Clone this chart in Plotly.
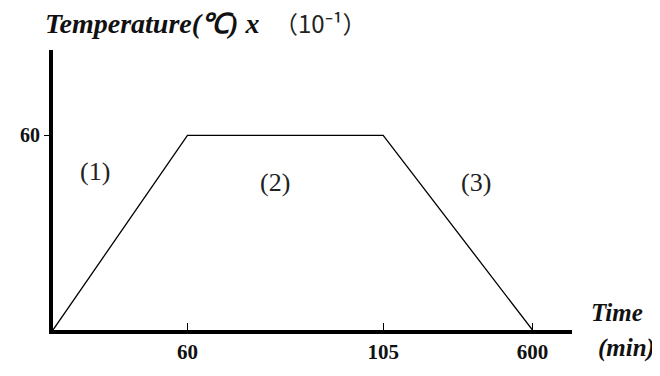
import plotly.graph_objects as go

# schematic heating profile: time points (min) and temperature (x10^-1 degC)
time_labels = ['60', '105', '600']
axis_pos = [0, 136, 334, 485]        # schematic (non-linear) positions on the time axis
temperature = [0, 60, 60, 0]
stage_labels = ['(1)', '(2)', '(3)']
stage_x = [42, 225, 428]
stage_y = [48.8, 45.5, 45.5]

serif = 'Liberation Serif, Times New Roman, serif'

fig = go.Figure()
fig.add_trace(go.Scatter(x=axis_pos, y=temperature, mode='lines',
                         line=dict(color='black', width=1.3),
                         hoverinfo='skip', showlegend=False, cliponaxis=False))

for lab, xp, yp in zip(stage_labels, stage_x, stage_y):
    fig.add_annotation(x=xp, y=yp, text=lab, showarrow=False,
                       font=dict(family=serif, size=26, color='#222'))

# y axis title, split in two parts (serif bold italic + sans)
fig.add_annotation(xref='paper', yref='paper', x=0, y=1, xshift=-10, yshift=27,
                   xanchor='left', yanchor='middle', showarrow=False,
                   text="<b><i>Temperature(℃) x</i></b>",
                   font=dict(family=serif, size=28, color='#111'))
fig.add_annotation(xref='paper', yref='paper', x=0, y=1, xshift=216, yshift=28,
                   xanchor='left', yanchor='middle', showarrow=False, borderpad=4,
                   text="（10⁻¹）",
                   font=dict(family='Noto Sans CJK SC', size=24, color='#222'))
# x axis title
fig.add_annotation(xref='paper', yref='paper', x=1, y=0, xshift=45, yshift=18,
                   xanchor='center', yanchor='middle', showarrow=False,
                   text="<b><i>Time</i></b>", font=dict(family=serif, size=25, color='#111'))
fig.add_annotation(xref='paper', yref='paper', x=1, y=0, xshift=54, yshift=-18,
                   xanchor='center', yanchor='middle', showarrow=False,
                   text="<b><i>(min)</i></b>", font=dict(family=serif, size=25, color='#111'))

# page body has an 8px margin, so the figure is a bit smaller than the window
fig.update_layout(
    width=652, height=368,
    margin=dict(l=39, r=88, t=42, b=34),
    paper_bgcolor='white', plot_bgcolor='white',
    xaxis=dict(range=[0, 525], tickvals=axis_pos[1:],
               ticktext=['<b>%s</b>' % t for t in time_labels],
               showline=True, linecolor='black', linewidth=4,
               ticks='inside', ticklen=7, tickwidth=1, tickcolor='black',
               showgrid=False, zeroline=False, ticklabelstandoff=0,
               tickfont=dict(family=serif, size=21, color='#111')),
    yaxis=dict(range=[0, 86.3], tickvals=[60], ticktext=['<b>60</b>'],
               showline=True, linecolor='black', linewidth=4,
               ticks='outside', ticklen=5, tickwidth=1, tickcolor='black',
               showgrid=False, zeroline=False,
               tickfont=dict(family=serif, size=20, color='#111')),
)

fig.write_html("out.html")
